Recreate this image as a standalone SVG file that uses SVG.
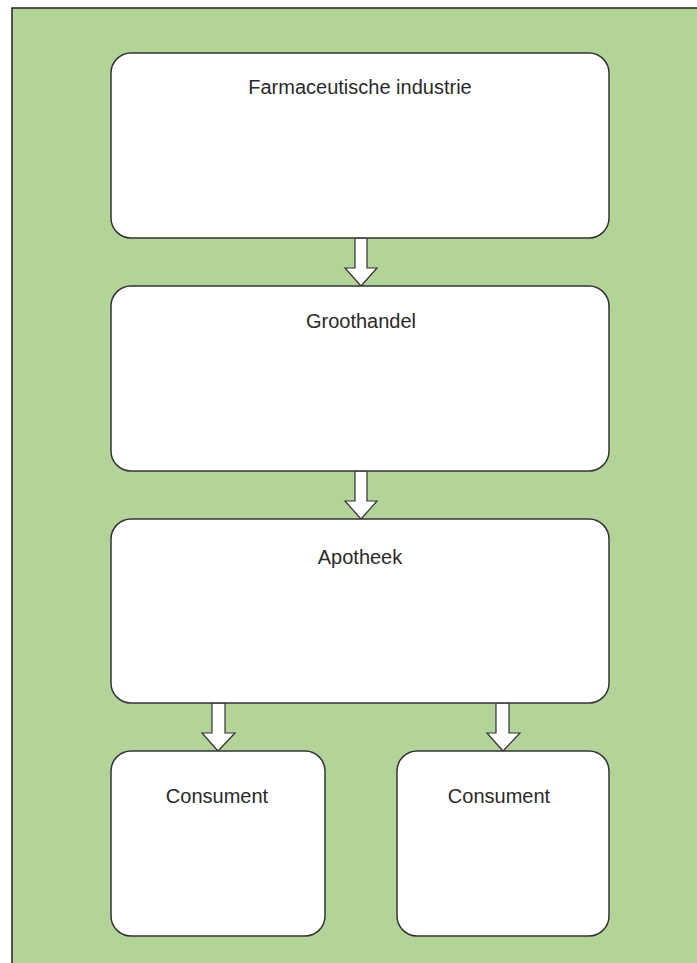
<svg xmlns="http://www.w3.org/2000/svg" width="697" height="963" viewBox="0 0 697 963">
<defs>
<style>
.box{fill:#ffffff;stroke:#333333;stroke-width:1.5}
.arrow{fill:#ffffff;stroke:#333333;stroke-width:1.2;stroke-linejoin:miter}
.lbl{font-family:"Liberation Sans",Arial,sans-serif;font-size:20px;fill:#2a2a2a;text-anchor:middle}
</style>
</defs>
<rect x="12" y="8" width="700" height="970" fill="#b2d498" stroke="#222222" stroke-width="1.5"/>
<g id="connectors">
<path class="arrow" d="M355,238 L367,238 L367,268 L377,268 L361,286 L345,268 L355,268 Z"/>
<path class="arrow" d="M355,471 L367,471 L367,501 L377,501 L361,519 L345,501 L355,501 Z"/>
<path class="arrow" d="M212,703 L225,703 L225,733 L235,733 L218,751 L202,733 L212,733 Z"/>
<path class="arrow" d="M496,703 L509,703 L509,733 L520,733 L503,751 L487,733 L496,733 Z"/>
</g>
<g id="farma">
<rect class="box" x="111" y="53" width="498" height="185" rx="20"/>
<text class="lbl" x="360" y="94">Farmaceutische industrie</text>
</g>
<g id="groothandel">
<rect class="box" x="111" y="286" width="498" height="185" rx="20"/>
<text class="lbl" x="361" y="328">Groothandel</text>
</g>
<g id="apotheek">
<rect class="box" x="111" y="519" width="498" height="184" rx="20"/>
<text class="lbl" x="360" y="564">Apotheek</text>
</g>
<g id="consument1">
<rect class="box" x="111" y="751" width="214" height="185" rx="20"/>
<text class="lbl" x="217" y="803">Consument</text>
</g>
<g id="consument2">
<rect class="box" x="397" y="751" width="212" height="185" rx="20"/>
<text class="lbl" x="499" y="803">Consument</text>
</g>
</svg>
